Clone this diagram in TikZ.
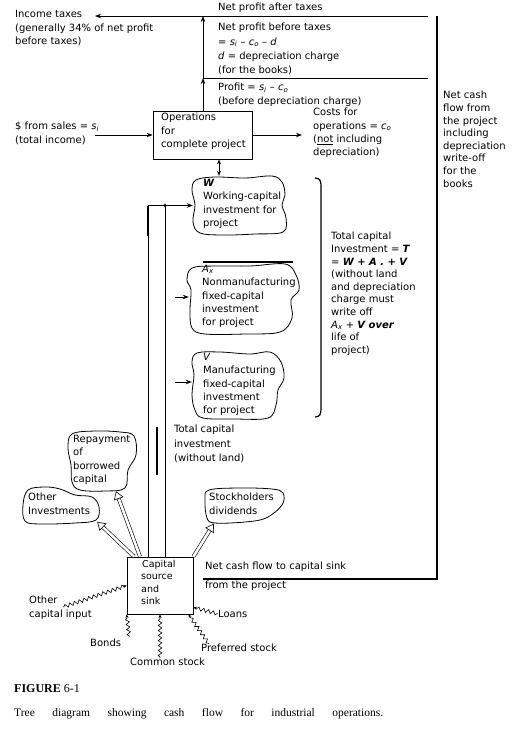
\documentclass[tikz,border=0pt]{standalone}
\usepackage{fontspec}
\setmainfont{DejaVu Sans}
\newfontfamily\capfont{Liberation Serif}
\usetikzlibrary{arrows.meta,decorations.pathmorphing,calc}
\newcommand\mvar[2]{\textit{#1}\textsubscript{\textit{#2}}}
\begin{document}
\begin{tikzpicture}[x=1pt,y=-1pt,
  txt/.style={inner sep=0pt, anchor=north west, align=left, font=\fontsize{10}{13.3}\selectfont},
  ln/.style={line width=0.9pt},
  arr/.style={line width=0.9pt,-{Stealth[length=6pt,width=4.5pt]}},
  hollow/.style={double, double distance=2.6pt, line width=0.6pt, -{Triangle[open,length=8pt,width=10pt]}},
  wavy/.style={decorate, decoration={snake, amplitude=1.8pt, segment length=5pt, pre length=1pt, post length=2pt}, line width=0.6pt, -{Stealth[length=3.5pt,width=3pt]}},
  blob/.style={line width=0.8pt},
  hid/.style={inner sep=0pt},
  boxn/.style={draw, line width=0.8pt, inner sep=0pt}
]
\useasboundingbox[fill=white] (0,0) rectangle (520,732);

% ---------- boxes ----------
\node[boxn, minimum width=99pt, minimum height=48pt] (ops) at (202.5,135) {};
\node[txt] (opst) at (161,113) {Operations\\for\\complete project};

\node[boxn, minimum width=66pt, minimum height=57pt] (cap) at (160,585.5) {};
\node[txt, font=\fontsize{9.5}{12.5}\selectfont] (capt) at (141,560) {\hspace*{1pt}Capital\\source\\and\\sink};

% ---------- blob anchors ----------
\node[hid, minimum width=94pt, minimum height=59pt] (W) at (240,205.5) {};
\node[hid, minimum width=108pt, minimum height=70pt] (Ax) at (243,300) {};
\node[hid, minimum width=92pt, minimum height=68pt] (V) at (238,385) {};
\node[hid, minimum width=76pt, minimum height=37pt] (oi) at (61,506) {};
\node[hid, minimum width=66pt, minimum height=60pt] (rep) at (102,461) {};
\node[hid, minimum width=78pt, minimum height=35pt] (sh) at (244,506) {};

% blob outlines
\draw[blob] plot[smooth cycle, tension=0.6] coordinates {(196,180) (215,177) (245,178) (272,176) (282,182) (285,195) (282,205) (286,218) (283,232) (255,234) (225,235) (200,233) (193,222) (195,205) (192,190)};
\draw[blob] plot[smooth cycle, tension=0.6] coordinates {(192,268) (215,266) (250,266) (285,264) (296,275) (299,290) (291,300) (292,318) (280,332) (245,334) (205,334) (192,328) (190,310) (191,290) (187,280)};
\draw[blob] plot[smooth cycle, tension=0.6] coordinates {(197,353) (220,352) (250,354) (270,352) (281,362) (284,378) (278,390) (276,405) (268,418) (235,419) (203,418) (195,410) (192,395) (194,375) (192,362)};
\draw[blob] plot[smooth cycle, tension=0.6] coordinates {(28,490) (45,487) (60,489) (75,495) (92,497) (99,507) (96,520) (75,523) (40,524) (25,521) (23,505)};
\draw[blob] plot[smooth cycle, tension=0.6] coordinates {(72,434) (95,431) (120,432) (134,436) (136,455) (128,470) (125,488) (105,491) (80,490) (72,482) (71,465) (68,448)};
\draw[blob] plot[smooth cycle, tension=0.6] coordinates {(209,490) (240,488) (272,489) (283,493) (282,505) (266,518) (245,522) (215,523) (207,518) (205,500)};

% blob texts
\node[txt] (Wt) at (203,179) {\textbf{\textit{W}}\\Working-capital\\investment for\\project};
\node[txt] (Axt) at (202,265) {\mvar{A}{x}\\Nonmanufacturing\\fixed-capital\\investment\\for project};
\node[txt] (Vt) at (203,353) {\textit{V}\\Manufacturing\\fixed-capital\\investment\\for project};
\node[txt] (oit) at (28,493) {Other\\Investments};
\node[txt] (rept) at (73,435) {Repayment\\of\\borrowed\\capital};
\node[txt] (sht) at (209,493) {Stockholders\\dividends};

% ---------- labels ----------
\node[txt] (nat) at (218,3) {Net profit after taxes};
\node[txt, font=\fontsize{10}{14.2}\selectfont] (npbt) at (218,23) {Net profit before taxes\\= \mvar{s}{i} -- \mvar{c}{o} -- \textit{d}\\\textit{d} = depreciation charge\\(for the books)};
\node[txt] (prof) at (218,83) {Profit = \mvar{s}{i} -- \mvar{c}{o}\\(before depreciation charge)};
\node[txt, font=\fontsize{10}{13.6}\selectfont] (inc) at (15,10) {Income taxes\\(generally 34\% of net profit\\before taxes)};
\node[txt] (sales) at (15,122) {\$ from sales = \mvar{s}{i}\\(total income)};
\node[txt] (costs) at (313,108) {Costs for\\operations = \mvar{c}{o}\\(\underline{not} including\\depreciation)};
\node[txt, font=\fontsize{10}{12.6}\selectfont] (ncfr) at (443,91) {Net cash\\flow from\\the project\\including\\depreciation\\write-off\\for the\\books};
\node[txt, font=\fontsize{10}{12.6}\selectfont] (tot) at (331,232) {Total capital\\Investment = \textbf{\textit{T}}\\= \textbf{\textit{W + A . + V}}\\(without land\\and depreciation\\charge must\\write off\\\mvar{A}{x} + \textbf{\textit{V over}}\\life of\\project)};
\node[txt, font=\fontsize{10}{14.5}\selectfont] (tci) at (174,425) {Total capital\\investment\\(without land)};
\node[txt] (ncft) at (205,562) {Net cash flow to capital sink};
\node[txt] (ncfb) at (205,581) {from the project};
\node[txt] (oci) at (29,596) {Other\\capital input};
\node[txt] (bonds) at (90,639) {Bonds};
\node[txt] (cs) at (130,658) {Common stock};
\node[txt] (pref) at (201,644) {Preferred stock};
\node[txt] (loans) at (218,610) {Loans};

% ---------- coordinates ----------
\coordinate (j1) at (203,78);
\coordinate (j2) at (203,16);
\coordinate (tr) at (428,16);
\coordinate (mr) at (428,78);
\coordinate (taxes) at (95,16);
\coordinate (salesend) at (95,135);
\coordinate (costend) at (302,135);
\coordinate (rv1) at (437,16);
\coordinate (rv2) at (437,579);
\coordinate (ncf) at (203,579);
\coordinate (axin) at (175,297);
\coordinate (vin) at (175,382);
\coordinate (ocs) at (63,607);

% ---------- connectors ----------
\draw[arr] (ops.north -| j1) -- (j1);
\draw[arr] (j1) -- (j2);
\draw[arr] (tr) -- (taxes);
\draw[ln] (j1) -- (mr);
\draw[line width=1.3pt] (rv1) -- (rv2) -- (ncf);
\draw[arr] (salesend) -- (ops.west);
\draw[arr] (ops.east) -- (costend);
\draw[line width=0.9pt,{Stealth[length=5pt,width=4pt]}-{Stealth[length=5pt,width=4pt]}] ([xshift=16.5pt]ops.south) -- ([xshift=16.5pt]ops.south |- W.north);

\draw[arr] ([xshift=-12pt]cap.north) |- (W.west);
\draw[ln] ([xshift=5pt]cap.north) -- ([xshift=5pt]cap.north |- W.west);
\fill ([xshift=5pt]cap.north |- W.west) circle (1.8pt);
\draw[line width=1.8pt] ([xshift=-12pt]cap.north |- W.west) -- ++(0,30);

\draw[arr] (axin) -- (axin -| Ax.west);
\draw[arr] (vin) -- (vin -| V.west);

\draw[hollow] ([xshift=-26pt]cap.north) -- ([shift={(-2pt,3pt)}]oi.south east);
\draw[hollow] ([xshift=-20pt]cap.north) -- ([xshift=14pt]rep.south);
\draw[hollow] ([xshift=0pt]cap.north east) -- ([xshift=9pt]sh.south west);

\draw[wavy] (ocs) -- (cap.west);
\draw[wavy] ([shift={(8pt,2pt)}]bonds.north east) -- (cap.south west);
\draw[wavy] (cap.south |- cs.north) -- (cap.south);
\draw[wavy] ([xshift=8pt]pref.north west) -- ([xshift=-5pt]cap.south east);
\draw[wavy] (loans.west) -- ([yshift=7pt]cap.south east);

% ---------- extra marks ----------
\draw[line width=1.2pt] (315,178) .. controls (320,178) and (321,181) .. (321,186) -- (321,409) .. controls (321,414) and (320,417) .. (315,417);
\draw[line width=1.6pt] (203,262) -- (293,262);
\draw[line width=1.2pt] (157,427) -- (157,475);

% ---------- caption ----------
\node[inner sep=0pt, anchor=north west, font=\capfont\fontsize{12}{14}\selectfont] (fig) at (14,684) {\textbf{FIGURE} 6-1};
\node[inner sep=0pt, anchor=north west, font=\capfont\fontsize{11.5}{14}\selectfont] (capline) at (14,708) {\makebox[369pt][s]{Tree diagram showing cash flow for industrial operations.}};
\end{tikzpicture}
\end{document}
